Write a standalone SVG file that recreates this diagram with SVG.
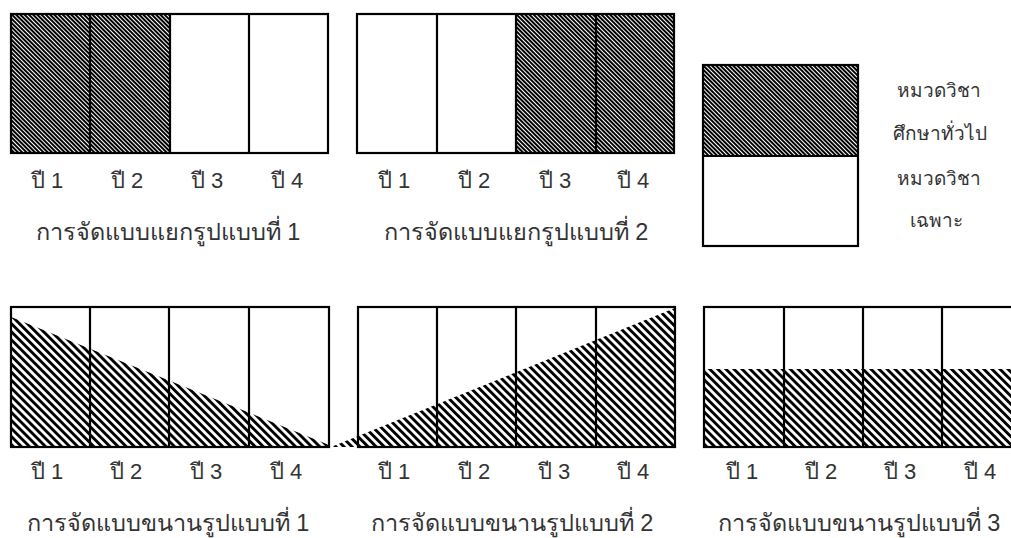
<svg xmlns="http://www.w3.org/2000/svg" width="1011" height="538" viewBox="0 0 1011 538">
<defs>
<pattern id="fine" width="3" height="3" patternUnits="userSpaceOnUse" patternTransform="rotate(-45)">
<rect x="0" y="0" width="1.5" height="3" fill="#000" shape-rendering="crispEdges"/>
</pattern>
<pattern id="coarse" width="5.7" height="5.7" patternUnits="userSpaceOnUse" patternTransform="rotate(-45)">
<rect x="0" y="0" width="2.9" height="5.7" fill="#000"/>
</pattern>
<style>
.box{fill:none;stroke:#000;stroke-width:2.2}
.div{stroke:#000;stroke-width:2.2}
.lbl{font-family:"Liberation Sans","Noto Sans",sans-serif;font-size:22px;fill:#333;text-anchor:middle}
.ttl{font-family:"Liberation Sans","Noto Sans",sans-serif;font-size:23.5px;fill:#333;text-anchor:middle}
.leg{font-family:"Liberation Sans","Noto Sans",sans-serif;font-size:19px;fill:#333;text-anchor:middle}
</style>
</defs>
<rect width="1011" height="538" fill="#fff"/>

<g id="sep1">
<rect x="11" y="14" width="159" height="139" fill="url(#fine)"/>
<rect class="box" x="11" y="14" width="317" height="139"/>
<line class="div" x1="90" y1="14" x2="90" y2="153"/>
<line class="div" x1="170" y1="14" x2="170" y2="153"/>
<line class="div" x1="249" y1="14" x2="249" y2="153"/>
<text class="lbl" x="47" y="188">ปี 1</text>
<text class="lbl" x="127" y="188">ปี 2</text>
<text class="lbl" x="207" y="188">ปี 3</text>
<text class="lbl" x="287" y="188">ปี 4</text>
<text class="ttl" x="168" y="240">การจัดแบบแยกรูปแบบที่ 1</text>
</g>

<g id="sep2">
<rect x="516" y="14" width="158" height="139" fill="url(#fine)"/>
<rect class="box" x="357" y="14" width="317" height="139"/>
<line class="div" x1="437" y1="14" x2="437" y2="153"/>
<line class="div" x1="516" y1="14" x2="516" y2="153"/>
<line class="div" x1="596" y1="14" x2="596" y2="153"/>
<text class="lbl" x="394" y="188">ปี 1</text>
<text class="lbl" x="474" y="188">ปี 2</text>
<text class="lbl" x="555" y="188">ปี 3</text>
<text class="lbl" x="633" y="188">ปี 4</text>
<text class="ttl" x="516" y="240">การจัดแบบแยกรูปแบบที่ 2</text>
</g>

<g id="legend">
<rect x="703" y="65" width="155" height="91" fill="url(#fine)"/>
<rect class="box" x="703" y="65" width="155" height="181"/>
<line class="div" x1="703" y1="156" x2="858" y2="156"/>
<text class="leg" x="939" y="97">หมวดวิชา</text>
<text class="leg" x="940" y="140">ศึกษาทั่วไป</text>
<text class="leg" x="939" y="185">หมวดวิชา</text>
<text class="leg" x="936" y="227">เฉพาะ</text>
</g>

<g id="par1">
<polygon points="11,317 334,447 11,447" fill="url(#coarse)"/>
<rect class="box" x="11" y="307" width="318" height="140"/>
<line class="div" x1="90" y1="307" x2="90" y2="447"/>
<line class="div" x1="169" y1="307" x2="169" y2="447"/>
<line class="div" x1="249" y1="307" x2="249" y2="447"/>
<text class="lbl" x="47" y="479">ปี 1</text>
<text class="lbl" x="126" y="479">ปี 2</text>
<text class="lbl" x="206" y="479">ปี 3</text>
<text class="lbl" x="286" y="479">ปี 4</text>
<text class="ttl" x="168" y="531">การจัดแบบขนานรูปแบบที่ 1</text>
</g>

<g id="par2">
<polygon points="331,447 675,308 675,447" fill="url(#coarse)"/>
<rect class="box" x="358" y="307" width="317" height="140"/>
<line class="div" x1="437" y1="307" x2="437" y2="447"/>
<line class="div" x1="516" y1="307" x2="516" y2="447"/>
<line class="div" x1="596" y1="307" x2="596" y2="447"/>
<text class="lbl" x="394" y="479">ปี 1</text>
<text class="lbl" x="474" y="479">ปี 2</text>
<text class="lbl" x="554" y="479">ปี 3</text>
<text class="lbl" x="633" y="479">ปี 4</text>
<text class="ttl" x="512" y="531">การจัดแบบขนานรูปแบบที่ 2</text>
</g>

<g id="par3">
<rect x="704" y="369" width="318" height="78" fill="url(#coarse)"/>
<rect class="box" x="704" y="307" width="318" height="140"/>
<line class="div" x1="784" y1="307" x2="784" y2="447"/>
<line class="div" x1="863" y1="307" x2="863" y2="447"/>
<line class="div" x1="942" y1="307" x2="942" y2="447"/>
<text class="lbl" x="742" y="479">ปี 1</text>
<text class="lbl" x="821" y="479">ปี 2</text>
<text class="lbl" x="900" y="479">ปี 3</text>
<text class="lbl" x="980" y="479">ปี 4</text>
<text class="ttl" x="859" y="531">การจัดแบบขนานรูปแบบที่ 3</text>
</g>
</svg>
